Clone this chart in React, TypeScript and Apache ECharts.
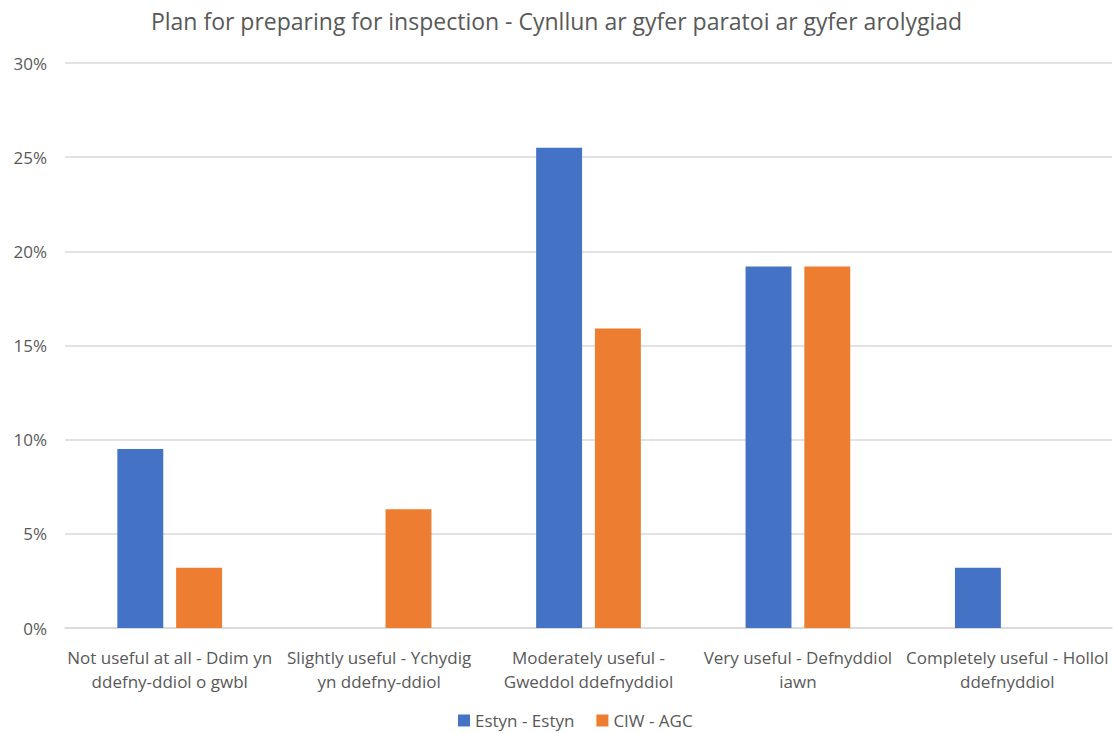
import React, { useEffect, useRef } from "react";
import * as echarts from "echarts";

const categories = [
  "Not useful at all - Ddim yn\nddefny-ddiol o gwbl",
  "Slightly useful - Ychydig\nyn ddefny-ddiol",
  "Moderately useful -\nGweddol ddefnyddiol",
  "Very useful - Defnyddiol\niawn",
  "Completely useful - Hollol\nddefnyddiol",
];
const estyn = [9.5, 0, 25.5, 19.2, 3.2];
const ciw = [3.2, 6.3, 15.9, 19.2, 0];
const yTicks = [0, 5, 10, 15, 20, 25, 30];

const FONT = "'Open Sans', 'Noto Sans', sans-serif";
const GRAY = "#595959";

export default function App() {
  const ref = useRef<HTMLDivElement>(null);
  useEffect(() => {
    if (!ref.current) return;
    const chart = echarts.init(ref.current, undefined, { renderer: "svg" });
    chart.setOption({
      animation: false,
      backgroundColor: "#ffffff",
      textStyle: { fontFamily: FONT },
      title: {
        text: "Plan for preparing for inspection - Cynllun ar gyfer paratoi ar gyfer arolygiad",
        left: "center",
        top: 4,
        textStyle: { fontFamily: FONT, fontSize: 23, fontWeight: "normal", color: GRAY },
      },
      legend: {
        bottom: -1,
        left: 453,
        itemWidth: 12,
        itemHeight: 12,
        itemGap: 22,
        icon: "rect",
        textStyle: { fontFamily: FONT, fontSize: 17, color: GRAY },
        data: ["Estyn - Estyn", "CIW - AGC"],
      },
      grid: { left: 65, right: 1, top: 63, bottom: 105, containLabel: false },
      xAxis: {
        type: "category",
        data: categories,
        axisTick: { show: false },
        axisLine: { lineStyle: { color: "#d9d9d9", width: 1.5 } },
        axisLabel: {
          interval: 0,
          margin: 17,
          fontFamily: FONT,
          fontSize: 17,
          color: GRAY,
          lineHeight: 24,
        },
      },
      yAxis: {
        type: "value",
        min: yTicks[0],
        max: yTicks[yTicks.length - 1],
        interval: 5,
        axisLine: { show: false },
        axisTick: { show: false },
        splitLine: { lineStyle: { color: "#d9d9d9", width: 1.5 } },
        axisLabel: {
          formatter: "{value}%",
          fontFamily: FONT,
          fontSize: 17,
          color: GRAY,
          margin: 18,
        },
      },
      series: [
        {
          name: "Estyn - Estyn",
          type: "bar",
          data: estyn,
          barGap: "28%",
          barCategoryGap: "50%",
          itemStyle: { color: "#4472c4" },
        },
        {
          name: "CIW - AGC",
          type: "bar",
          data: ciw,
          itemStyle: { color: "#ed7d31" },
        },
      ],
    });
    return () => chart.dispose();
  }, []);
  return (
    <div
      ref={ref}
      style={{ position: "absolute", left: 0, top: 0, width: 1113, height: 733 }}
    />
  );
}
